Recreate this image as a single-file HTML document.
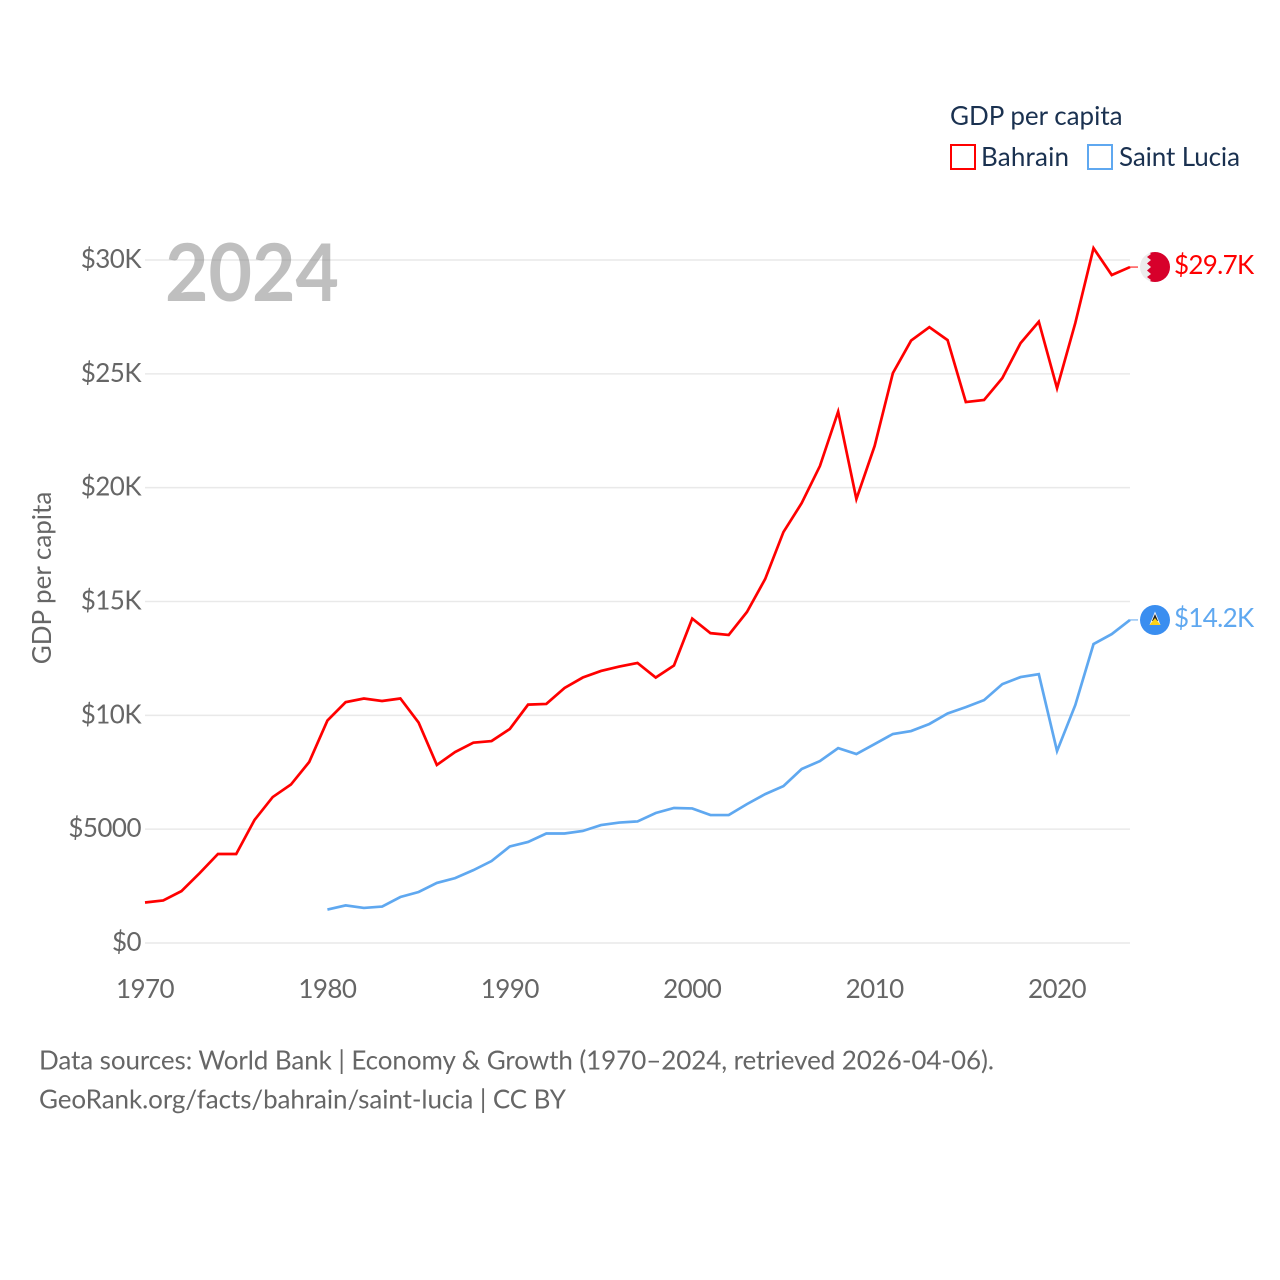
<!DOCTYPE html>
<html lang="en">
<head>
<meta charset="utf-8">
<title>GDP per capita: Bahrain and Saint Lucia</title>
<style>
html,body{margin:0;padding:0;background:#fff;width:1280px;height:1280px;overflow:hidden}
svg{display:block;font-family:"Lato","Carlito","Liberation Sans",sans-serif}
</style>
</head>
<body>
<svg id="chart" width="1280" height="1280" viewBox="0 0 1280 1280" xmlns="http://www.w3.org/2000/svg">
  <rect width="1280" height="1280" fill="#fff"/>
  <g id="grid"></g>
  <g id="yticks"></g>
  <g id="xticks"></g>
  <text x="165" y="301" font-size="80" font-weight="700" fill="#808080" fill-opacity="0.5" textLength="174" lengthAdjust="spacingAndGlyphs">2024</text>
  <text transform="translate(51,578) rotate(-90)" text-anchor="middle" font-size="26" fill="#666">GDP per capita</text>
  <g id="series"></g>

  <g>
    <text x="950" y="125" font-size="26" fill="#1a3150">GDP per capita</text>
    <g>
      <rect x="951" y="145" width="24" height="24" fill="#fff" stroke="#ff0000" stroke-width="2"/>
      <text x="981" y="166" font-size="26" fill="#1a3150" textLength="88">Bahrain</text>
    </g>
    <g>
      <rect x="1088" y="145" width="24" height="24" fill="#fff" stroke="#5fa8f0" stroke-width="2"/>
      <text x="1119" y="166" font-size="26" fill="#1a3150" textLength="121">Saint Lucia</text>
    </g>
  </g>

  <defs>
    <clipPath id="flag-clip-bh"><circle cx="1155" cy="267" r="15"/></clipPath>
    <clipPath id="flag-clip-lc"><circle cx="1155" cy="620" r="15"/></clipPath>
  </defs>
  <g clip-path="url(#flag-clip-bh)">
    <rect x="1140" y="252" width="30" height="30" fill="#ececec"/>
    <polygon points="1149,252 1151,254 1147,257 1151,260 1147,263.5 1151,267 1147,270.5 1151,274 1147,277 1151,280 1149,282 1170,282 1170,252" fill="#d7002b"/>
  </g>
  <g clip-path="url(#flag-clip-lc)">
    <rect x="1140" y="605" width="30" height="30" fill="#3a8ef0"/>
    <polygon points="1155,611.5 1160.5,625 1149.5,625" fill="#f4f4f4"/>
    <polygon points="1155,614 1158,621 1152,621" fill="#222"/>
    <polygon points="1155,618 1160.5,625 1149.5,625" fill="#fcd116"/>
  </g>

  <text x="39" y="1069.5" font-size="26" fill="#666" textLength="955">Data sources: World Bank | Economy &amp; Growth (1970–2024, retrieved 2026-04-06).</text>
  <text x="39" y="1108.5" font-size="26" fill="#666" textLength="527">GeoRank.org/facts/bahrain/saint-lucia | CC BY</text>
</svg>
<script>
const bahrainStartYear = 1970;
const bahrainValues = [1780,1870,2280,3070,3910,3910,5400,6410,6960,7950,9770,10580,10740,10630,10740,9680,7820,8390,8800,8870,9400,10470,10500,11200,11660,11950,12140,12300,11660,12190,14250,13610,13530,14540,15990,18050,19320,20950,23340,19500,21830,25030,26460,27050,26480,23760,23850,24810,26350,27290,24370,27230,30520,29340,29690];
const saintLuciaStartYear = 1980;
const saintLuciaValues = [1470,1650,1540,1600,2020,2240,2640,2850,3200,3600,4240,4440,4810,4810,4920,5180,5290,5340,5710,5930,5910,5620,5620,6100,6540,6890,7640,7990,8560,8300,8740,9180,9310,9620,10080,10360,10670,11370,11680,11810,8430,10450,13130,13570,14190];
const yTickValues = [0,5000,10000,15000,20000,25000,30000];
const yTickLabels = ["$0","$5000","$10K","$15K","$20K","$25K","$30K"];
const xTickYears = [1970,1980,1990,2000,2010,2020];
const bahrainEndLabel = "$29.7K";
const saintLuciaEndLabel = "$14.2K";

const NS = "http://www.w3.org/2000/svg";
const xScale = year => 145 + (year - 1970) * (985 / 54);
const yScale = value => 943 - value * (683 / 30000);
const grid = document.getElementById("grid");
const yticks = document.getElementById("yticks");
const xticks = document.getElementById("xticks");
const series = document.getElementById("series");

yTickValues.forEach((v, i) => {
  const line = document.createElementNS(NS, "line");
  
  
  line.setAttribute("x1", 145);
  line.setAttribute("x2", 1130);
  line.setAttribute("y1", yScale(v));
  line.setAttribute("y2", yScale(v));
  line.setAttribute("stroke", "#e9e9e9");
  line.setAttribute("stroke-width", "1.5");
  grid.appendChild(line);

  const label = document.createElementNS(NS, "text");
  
  
  label.setAttribute("x", 141);
  label.setAttribute("y", yScale(v) + 8);
  label.setAttribute("text-anchor", "end");
  label.setAttribute("font-size", "26");
  label.setAttribute("letter-spacing", "-0.55");
  label.setAttribute("fill", "#666");
  label.textContent = yTickLabels[i];
  yticks.appendChild(label);
});

xTickYears.forEach(year => {
  const label = document.createElementNS(NS, "text");
  
  
  label.setAttribute("x", xScale(year));
  label.setAttribute("y", 998);
  label.setAttribute("text-anchor", "middle");
  label.setAttribute("font-size", "26");
  label.setAttribute("letter-spacing", "-0.55");
  label.setAttribute("fill", "#666");
  label.textContent = year;
  xticks.appendChild(label);
});

function drawSeries(name, values, startYear, color, endLabel) {
  const d = values.map((v, i) => (i ? "L" : "M") + xScale(startYear + i).toFixed(2) + " " + yScale(v).toFixed(2)).join(" ");
  const path = document.createElementNS(NS, "path");
  
  
  path.setAttribute("d", d);
  path.setAttribute("fill", "none");
  path.setAttribute("stroke", color);
  path.setAttribute("stroke-width", "2.7");
  path.setAttribute("stroke-linejoin", "miter");
  path.setAttribute("data-series", name);
  series.appendChild(path);

  const lastX = xScale(startYear + values.length - 1);
  const lastY = yScale(values[values.length - 1]);

  const connector = document.createElementNS(NS, "line");
  
  
  connector.setAttribute("x1", lastX);
  connector.setAttribute("x2", lastX + 8);
  connector.setAttribute("y1", lastY);
  connector.setAttribute("y2", lastY);
  connector.setAttribute("stroke", color);
  connector.setAttribute("stroke-width", "1");
  series.appendChild(connector);

  const label = document.createElementNS(NS, "text");
  
  
  label.setAttribute("x", lastX + 44);
  label.setAttribute("y", lastY + 7);
  label.setAttribute("font-size", "26");
  label.setAttribute("letter-spacing", "-0.7");
  label.setAttribute("fill", color);
  label.textContent = endLabel;
  series.appendChild(label);
}

drawSeries("Bahrain", bahrainValues, bahrainStartYear, "#ff0000", bahrainEndLabel);
drawSeries("Saint Lucia", saintLuciaValues, saintLuciaStartYear, "#5fa8f0", saintLuciaEndLabel);
</script>
</body>
</html>
